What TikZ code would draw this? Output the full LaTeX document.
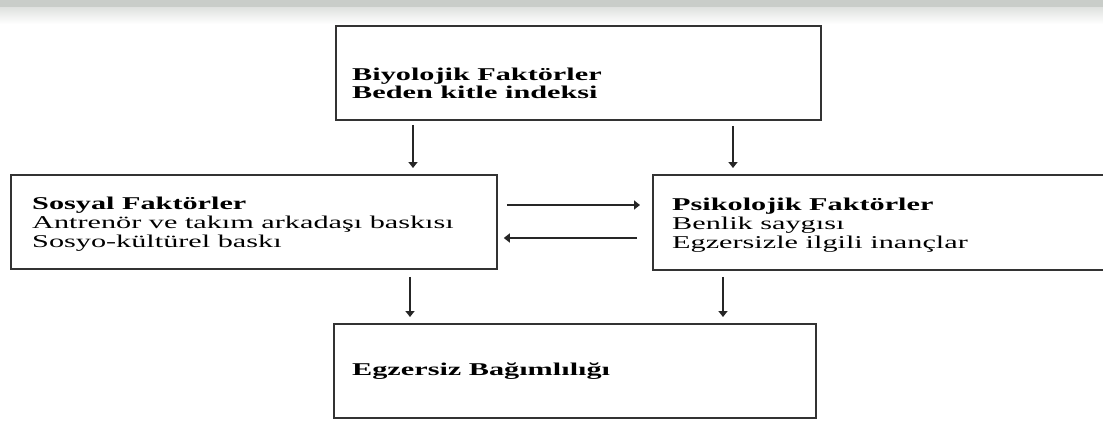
\documentclass[tikz,border=0pt]{standalone}
\usepackage{fontspec}
\newfontfamily\df[FakeStretch=1.68]{Liberation Serif}
\usetikzlibrary{arrows.meta,calc}
\definecolor{edge}{HTML}{333333}
\definecolor{band}{HTML}{C9CDC9}
\begin{document}
\begin{tikzpicture}[x=1pt,y=-1pt,
  box/.style={draw=edge,line width=1.8pt,anchor=north west,inner sep=0pt},
  txt/.style={anchor=base west,inner sep=0pt,font=\df\fontsize{18}{19}\selectfont},
  btxt/.style={txt,font=\df\bfseries\fontsize{18}{19}\selectfont},
  arr/.style={draw=black!85,line width=1.5pt,-{Triangle[length=6pt,width=9pt]}}]
\useasboundingbox (0,0) rectangle (1103,423);
% top band
\fill[band] (0,0) rectangle (1103,7);
\shade[top color=band!60,bottom color=white] (0,7) rectangle (1103,24);
% boxes
\node[box,minimum width=485pt,minimum height=94pt] (bio) at (335,25) {};
\node[box,minimum width=486pt,minimum height=94pt] (soc) at (10,174) {};
\node[box,minimum width=456pt,minimum height=95pt] (psy) at (652,174) {};
\node[box,minimum width=482pt,minimum height=94pt] (bot) at (333,323) {};
% texts
\node[btxt] (bio1) at (352,80) {Biyolojik Faktörler};
\node[btxt] (bio2) at (352,98) {Beden kitle indeksi};
\node[btxt] (soc1) at (32,209) {Sosyal Faktörler};
\node[txt] (soc2) at (32,228) {Antrenör ve takım arkadaşı baskısı};
\node[txt] (soc3) at (32,247) {Sosyo-kültürel baskı};
\node[btxt] (psy1) at (672,210) {Psikolojik Faktörler};
\node[txt] (psy2) at (672,229) {Benlik saygısı};
\node[txt] (psy3) at (672,248) {Egzersizle ilgili inançlar};
\node[btxt] (bot1) at (352,375) {Egzersiz Bağımlılığı};
% arrows
\draw[arr] ([shift={(78,4)}]bio.south west) -- ([shift={(403,-6)}]soc.north west);
\draw[arr] ([shift={(398,5)}]bio.south west) -- ([shift={(81,-6)}]psy.north west);
\draw[arr] ([shift={(9,31)}]soc.north east) -- ([shift={(-12,31)}]psy.north west);
\draw[arr] ([shift={(-15,64)}]psy.north west) -- ([shift={(6,64)}]soc.north east);
\draw[arr] ([shift={(400,7)}]soc.south west) -- ([shift={(77,-6)}]bot.north west);
\draw[arr] ([shift={(71,6)}]psy.south west) -- ([shift={(390,-6)}]bot.north west);
\end{tikzpicture}
\end{document}
